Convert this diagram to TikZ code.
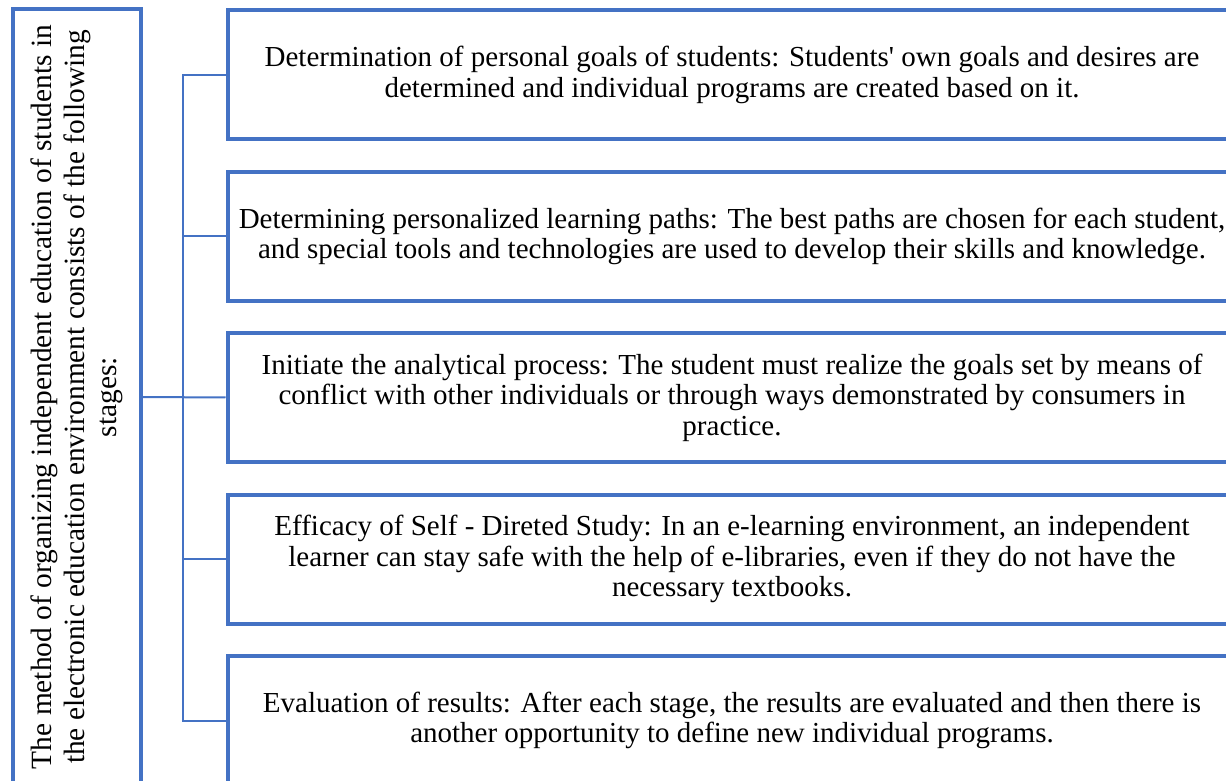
\documentclass[tikz,border=0pt]{standalone}
\usepackage{fontspec}
\setmainfont{Liberation Serif}
\definecolor{wordblue}{RGB}{68,114,196}
\begin{document}
\begin{tikzpicture}[x=1pt,y=1pt,
  boxline/.style={draw=wordblue, line width=4pt, rectangle, inner sep=0pt},
  mainbox/.style={boxline, minimum width=776pt, minimum height=128pt, align=center,
    font=\fontsize{29.4}{32.5}\selectfont},
  stage/.style={boxline, minimum width=1009pt, minimum height=129pt, anchor=west, align=center,
    font=\fontsize{29}{30.5}\selectfont},
  conn/.style={draw=wordblue, line width=2pt}]
\useasboundingbox (0,0) rectangle (1226,780);
\node[mainbox, rotate=90] (main) at (77,383)
  {The method of organizing independent education of students in\\
   the electronic education environment consists of the following\\
   stages:};
\node[stage] (s1) at (225.5,705)
  {Determination of personal goals of students: Students\textquotesingle\ own goals and desires are\\
   determined and individual programs are created based on it.};
\node[stage] (s2) at (225.5,543.5)
  {Determining personalized learning paths: The best paths are chosen for each student,\\
   and special tools and technologies are used to develop their skills and knowledge.};
\node[stage] (s3) at (225.5,382.5)
  {Initiate the analytical process: The student must realize the goals set by means of\\
   conflict with other individuals or through ways demonstrated by consumers in\\
   practice.};
\node[stage] (s4) at (225.5,221)
  {Efficacy of Self - Direted Study: In an e-learning environment, an independent\\
   learner can stay safe with the help of e-libraries, even if they do not have the\\
   necessary textbooks.};
\node[stage] (s5) at (225.5,59.5)
  {Evaluation of results: After each stage, the results are evaluated and then there is\\
   another opportunity to define new individual programs.};
\coordinate (bx) at (182.5,0);
\draw[conn] (s1.west) -- (s1.west -| bx) -- (s5.west -| bx) -- (s5.west);
\draw[conn] (s2.west) -- (s2.west -| bx);
\draw[conn] (s4.west) -- (s4.west -| bx);
\draw[conn] (main.south) -- (s3.west);
\end{tikzpicture}
\end{document}
